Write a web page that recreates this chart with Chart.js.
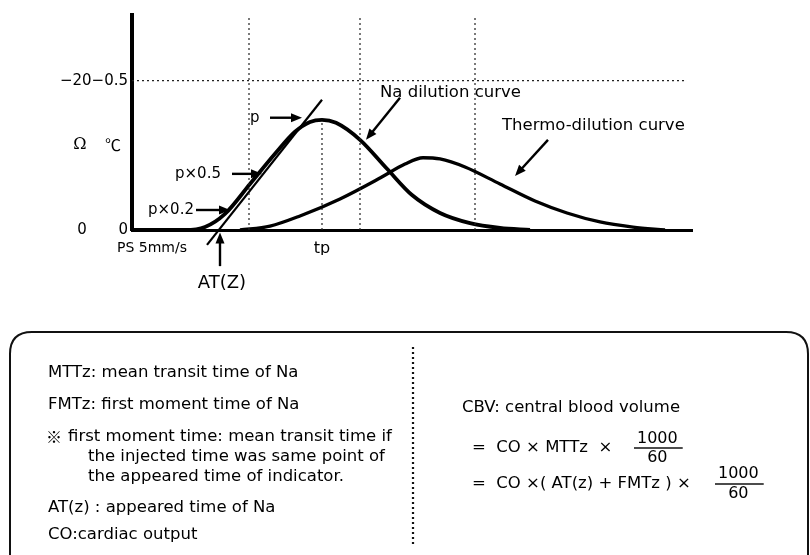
<!DOCTYPE html>
<html><head><meta charset="utf-8">
<script src="https://cdn.jsdelivr.net/npm/chart.js@4.4.1/dist/chart.umd.min.js"></script>
<style>html,body{margin:0;padding:0;background:#fff}</style>
</head><body>
<canvas id="c" width="810" height="555"></canvas>
<script>
// ---- data (time in arbitrary units, amplitude as positive deflection) ----
const naX = [0, 5.3, 7.3, 9.3, 11.8, 14.3, 16.3, 17.8, 19.0, 20.4, 22.8, 25.5, 28.0, 30.8, 33.8, 36.8, 39.8];
const naY = [0, 0, 0.010, 0.054, 0.154, 0.255, 0.329, 0.362, 0.369, 0.359, 0.302, 0.205, 0.117, 0.057, 0.023, 0.007, 0];
const thermoX = [10.8, 13.8, 16.8, 20.8, 24.8, 27.3, 29.1, 30.8, 33.3, 36.8, 40.3, 43.5, 46.8, 50.1, 53.3];
const thermoY = [0, 0.013, 0.047, 0.104, 0.174, 0.221, 0.242, 0.238, 0.211, 0.154, 0.097, 0.057, 0.027, 0.010, 0];
const tangentX = [7.5, 19.0];
const tangentY = [-0.05, 0.436];
const guideLinesX = [11.7, 22.8, 34.3];
const tpValueX = 19.0;
const tpValueY = 0.369;
const refLevelY = 0.5;
const refLevelEndX = 55.3;
const yTickValues = [0, 0.5];
const yTickLabelsC = ['0', '−0.5'];
const yTickLabelsOhm = ['0', '−20'];
const xTickValues = [19.0];
const xTickLabels = ['tp'];

const X_MAX = 56, Y_MAX = 0.72;
const pts = (xs, ys) => xs.map((x, i) => ({x, y: ys[i]}));

const datasets = [];
const dot = {borderColor:'#222', borderWidth:1.2, borderDash:[2,3], pointRadius:0, fill:false, showLine:true};
guideLinesX.forEach(gx => datasets.push(Object.assign({data:[{x:gx,y:0},{x:gx,y:Y_MAX}]}, dot)));
datasets.push(Object.assign({data:[{x:tpValueX,y:0},{x:tpValueX,y:tpValueY}]}, dot));
datasets.push(Object.assign({data:[{x:0,y:refLevelY},{x:refLevelEndX,y:refLevelY}]}, dot));
datasets.push({label:'Na dilution curve', data:pts(naX,naY), borderColor:'#000', borderWidth:3.8, pointRadius:0, cubicInterpolationMode:'monotone', showLine:true});
datasets.push({label:'Thermo-dilution curve', data:pts(thermoX,thermoY), borderColor:'#000', borderWidth:3.3, pointRadius:0, cubicInterpolationMode:'monotone', showLine:true});
datasets.push({label:'tangent', data:pts(tangentX,tangentY), borderColor:'#000', borderWidth:2.2, pointRadius:0, showLine:true, clip:false});

const FONT = '"DejaVu Sans", "Noto Sans CJK JP", sans-serif';

// annotations in data coordinates
const arrows = [
  {from:[13.8,0.376], to:[17.0,0.376]},
  {from:[10.0,0.188], to:[13.0,0.188]},
  {from:[6.4,0.067], to:[9.8,0.067]},
  {from:[26.8,0.443], to:[23.4,0.302]},
  {from:[41.6,0.302], to:[38.3,0.181]},
  {from:[8.8,-0.121], to:[8.8,-0.008]}
];
const labels = [
  {t:'p', x:11.8, y:0.376, align:'left', size:15},
  {t:'p×0.5', x:4.3, y:0.188, align:'left', size:15},
  {t:'p×0.2', x:1.6, y:0.067, align:'left', size:15},
  {t:'Na dilution curve', x:24.8, y:0.46, align:'left', size:16.5},
  {t:'Thermo-dilution curve', x:37.0, y:0.349, align:'left', size:16.5},
  {t:'AT(Z)', x:9.0, y:-0.178, align:'center', size:18},
  {t:'PS 5mm/s', x:-1.5, y:-0.06, align:'left', size:14}
];

function arrow(ctx, x1, y1, x2, y2) {
  const a = Math.atan2(y2-y1, x2-x1), L = 11, W = 4.5;
  ctx.beginPath(); ctx.moveTo(x1,y1);
  ctx.lineTo(x2 - L*0.8*Math.cos(a), y2 - L*0.8*Math.sin(a)); ctx.stroke();
  ctx.beginPath();
  ctx.moveTo(x2, y2);
  ctx.lineTo(x2 - L*Math.cos(a) + W*Math.sin(a), y2 - L*Math.sin(a) - W*Math.cos(a));
  ctx.lineTo(x2 - L*Math.cos(a) - W*Math.sin(a), y2 - L*Math.sin(a) + W*Math.cos(a));
  ctx.closePath(); ctx.fill();
}

function fraction(ctx, x, yTop, yBot, yBar) {
  ctx.save();
  ctx.font = '16px ' + FONT; ctx.textAlign = 'center';
  const w = ctx.measureText('1000').width;
  const cx = x + w / 2 + 3;
  ctx.fillText('1000', cx, yTop); ctx.fillText('60', cx, yBot);
  ctx.lineWidth = 1.3;
  ctx.beginPath(); ctx.moveTo(x, yBar); ctx.lineTo(x + w + 8, yBar); ctx.stroke();
  ctx.restore();
}

const annot = {
  id:'annot',
  afterDraw(chart) {
    const ctx = chart.ctx, xs = chart.scales.x, ys = chart.scales.y;
    const X = v => xs.getPixelForValue(v), Y = v => ys.getPixelForValue(v);
    ctx.save();
    ctx.strokeStyle = '#000'; ctx.fillStyle = '#000'; ctx.lineWidth = 2.4;
    arrows.forEach(a => arrow(ctx, X(a.from[0]), Y(a.from[1]), X(a.to[0]), Y(a.to[1])));
    ctx.textBaseline = 'middle';
    labels.forEach(l => { ctx.font = l.size + 'px ' + FONT; ctx.textAlign = l.align; ctx.fillText(l.t, X(l.x), Y(l.y)); });
    // Ohm column and unit labels
    ctx.font = '15px ' + FONT;
    ctx.textAlign = 'center'; ctx.fillText(yTickLabelsOhm[0], 82, Y(yTickValues[0]));
    ctx.textAlign = 'right';
    const wC = ctx.measureText(yTickLabelsC[1]).width;
    ctx.fillText(yTickLabelsOhm[1], 128 - wC, Y(yTickValues[1]));
    ctx.textAlign = 'center';
    ctx.font = '16px "DejaVu Serif", serif';
    ctx.fillText('Ω', 80, Y(0.285));
    ctx.font = '16px "Noto Sans CJK JP", sans-serif';
    ctx.fillText('℃', 113, Y(0.285));

    // lower explanatory box
    ctx.lineWidth = 2; ctx.strokeStyle = '#111';
    const L = 10, T = 332, R = 808, B = 570, r = 22;
    ctx.beginPath();
    ctx.moveTo(L, B); ctx.lineTo(L, T + r); ctx.quadraticCurveTo(L, T, L + r, T);
    ctx.lineTo(R - r, T); ctx.quadraticCurveTo(R, T, R, T + r); ctx.lineTo(R, B);
    ctx.stroke();
    ctx.setLineDash([2, 3]); ctx.lineWidth = 2.2;
    ctx.beginPath(); ctx.moveTo(413, 347); ctx.lineTo(413, 546); ctx.stroke();
    ctx.setLineDash([]);

    ctx.font = '16.5px ' + FONT; ctx.textAlign = 'left'; ctx.textBaseline = 'middle';
    const lines = [
      ['MTTz: mean transit time of Na', 48, 373],
      ['FMTz: first moment time of Na', 48, 405],
      ['first moment time: mean transit time if', 68, 437],
      ['the injected time was same point of', 88, 457],
      ['the appeared time of indicator.', 88, 477],
      ['AT(z) : appeared time of Na', 48, 508],
      ['CO:cardiac output', 48, 535],
      ['CBV: central blood volume', 462, 408],
      ['=  CO × MTTz  ×', 472, 448],
      ['=  CO ×( AT(z) + FMTz ) ×', 472, 484]
    ];
    lines.forEach(l => ctx.fillText(l[0], l[1], l[2]));
    ctx.font = '16px "Noto Sans CJK JP", sans-serif';
    ctx.fillText('※', 46, 437);
    fraction(ctx, 634, 439, 458, 448);
    fraction(ctx, 715, 474, 494, 484);
    ctx.restore();
  }
};

new Chart(document.getElementById('c'), {
  type: 'scatter',
  data: {datasets},
  options: {
    responsive:false, animation:false, devicePixelRatio:1,
    layout:{padding:{left:0, top:15, right:118, bottom:300}},
    plugins:{legend:{display:false}, tooltip:{enabled:false}},
    scales:{
      x:{type:'linear', min:0, max:X_MAX,
        afterBuildTicks: s => { s.ticks = xTickValues.map(v => ({value:v})); },
        afterFit: s => { s.height = 25; },
        ticks:{callback:(v,i)=>xTickLabels[i], color:'#000', padding:9, font:{size:16, family:FONT}},
        grid:{display:false, drawTicks:false},
        border:{display:true, color:'#000', width:3}},
      y:{type:'linear', min:0, max:Y_MAX,
        afterBuildTicks: s => { s.ticks = yTickValues.map(v => ({value:v})); },
        afterFit: s => { s.width = 132; },
        ticks:{callback:(v,i)=>yTickLabelsC[i], color:'#000', padding:4, font:{size:15, family:FONT}},
        grid:{display:false, drawTicks:false},
        border:{display:true, color:'#000', width:4}}
    }
  },
  plugins:[annot]
});
</script>
</body></html>
